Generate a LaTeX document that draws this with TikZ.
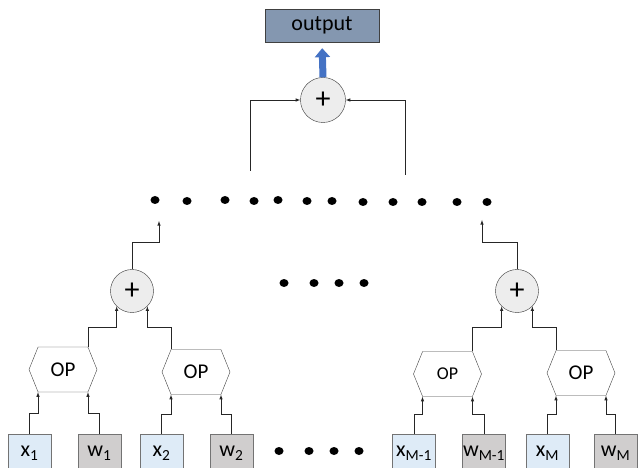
\documentclass[tikz,border=0pt]{standalone}
\usepackage{fontspec}
\setmainfont{Carlito}
\usetikzlibrary{arrows,arrows.meta,shapes.symbols}

\definecolor{outfill}{HTML}{8497B0}
\definecolor{arrowblue}{HTML}{4472C4}
\definecolor{xfill}{HTML}{DEEBF7}
\definecolor{wfill}{HTML}{D0CECE}
\definecolor{sumfill}{HTML}{EDEDED}

\tikzset{
  inbox/.style={draw=black!55,fill=#1,minimum width=43pt,minimum height=38pt,
    inner sep=0pt,anchor=north,font=\fontsize{22}{24}\selectfont},
  opnode/.style={draw=black!75,signal,signal to=west and east,
    signal pointer angle=136,minimum width=68pt,minimum height=45pt,
    inner sep=0pt,font=\fontsize{21}{24}\selectfont},
  sumnode/.style={draw=black!80,circle,fill=sumfill,minimum size=43pt,
    inner sep=0pt,font=\fontsize{30}{30}\selectfont},
  wire/.style={draw=black!85,line width=0.6pt,->,>=latex}
}

\begin{document}
\begin{tikzpicture}[x=1pt,y=-1pt]
 \clip (0,0) rectangle (638,468);
 % top sum and output
 \node[draw=black!75,fill=outfill,minimum width=114pt,minimum height=33pt,
       font=\fontsize{22}{24}\selectfont] (out) at (322,25.5) {output};
 \node[sumnode,minimum size=45pt] (sum) at (323,100) {+};
 \draw[line width=7pt,arrowblue,-{Triangle[width=15pt,length=9pt]},
       shorten >=6pt] (sum.north) -- (out.south);
 \coordinate (tl) at (250,171);
 \coordinate (tr) at (405,175);
 \draw[wire] (tl) |- (sum.west);
 \draw[wire] (tr) |- (sum.east);
 % dots
 \foreach \px/\py in {155/200,187/201,225/200,254/201,278/200,307/201,
                      332/201,363/202,393/202,422/202,457/202,487/202}
   \fill (\px,\py) ellipse (4.5pt and 4pt);
 \foreach \px in {284,314,339,364}
   \fill (\px,283) ellipse (4.5pt and 4pt);
 \foreach \px in {279,309,334,359}
   \fill (\px,451) ellipse (4.5pt and 4pt);
 % left branch
 \node[inbox=xfill] (x1) at (29.5,434) {x\textsubscript{1}};
 \node[inbox=wfill] (w1) at (99.5,434) {w\textsubscript{1}};
 \node[inbox=xfill] (x2) at (161.5,434) {x\textsubscript{2}};
 \node[inbox=wfill] (w2) at (231.5,434) {w\textsubscript{2}};
 \node[opnode] (op1) at (63,369.5) {OP};
 \node[opnode] (op2) at (196,372) {OP};
 \node[sumnode] (s1) at (132,291) {+};
 \coordinate (dl) at (159,221);
 \draw[wire] (x1.north) -- ++(0,-21) -| ([xshift=-25pt]op1.south);
 \draw[wire] (w1.north) -- ++(0,-21) -| ([xshift=25pt]op1.south);
 \draw[wire] (x2.north) -- ++(0,-20) -| ([xshift=-25pt]op2.south);
 \draw[wire] (w2.north) -- ++(0,-20) -| ([xshift=25pt]op2.south);
 \draw[wire] ([xshift=25pt]op1.north) -- ++(0,-20) -| (s1.-135);
 \draw[wire] ([xshift=-25pt]op2.north) -- ++(0,-22) -| (s1.-45);
 \draw[wire] (s1.north) -- ++(0,-27) -| (dl);
 % right branch
 \node[inbox=xfill] (xm1) at (414,434) {x\textsubscript{M-1}};
 \node[inbox=wfill] (wm1) at (484,434) {w\textsubscript{M-1}};
 \node[inbox=xfill] (xm) at (547.5,434) {x\textsubscript{M}};
 \node[inbox=wfill] (wm) at (615.5,434) {w\textsubscript{M}};
 \node[opnode,font=\fontsize{18}{20}\selectfont] (opm1) at (447.5,374) {OP};
 \node[opnode] (opm) at (581,373) {OP};
 \node[sumnode] (s2) at (517,291) {+};
 \coordinate (dr) at (482,220);
 \draw[wire] (xm1.north) -- ++(0,-20) -| ([xshift=-25pt]opm1.south);
 \draw[wire] (wm1.north) -- ++(0,-20) -| ([xshift=25pt]opm1.south);
 \draw[wire] (xm.north) -- ++(0,-20) -| ([xshift=-25pt]opm.south);
 \draw[wire] (wm.north) -- ++(0,-20) -| ([xshift=25pt]opm.south);
 \draw[wire] ([xshift=25pt]opm1.north) -- ++(0,-24) -| (s2.-135);
 \draw[wire] ([xshift=-25pt]opm.north) -- ++(0,-23) -| (s2.-45);
 \draw[wire] (s2.north) -- ++(0,-27) -| (dr);
\end{tikzpicture}
\end{document}
